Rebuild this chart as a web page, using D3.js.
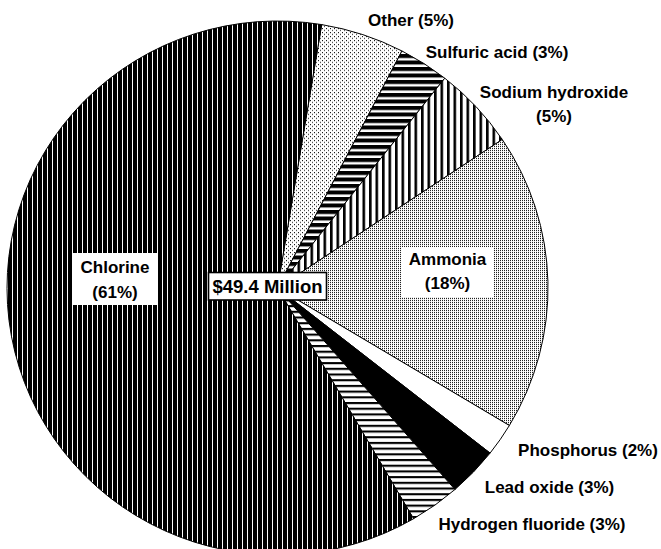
<!DOCTYPE html>
<html>
<head>
<meta charset="utf-8">
<script src="https://cdn.jsdelivr.net/npm/d3@7"></script>
<style>
  html, body { margin: 0; padding: 0; background: #fff; }
  svg { display: block; }
  text { font-family: "Liberation Sans", Arial, Helvetica, sans-serif; font-weight: bold; fill: #000; }
</style>
</head>
<body>
<svg id="chart" width="661" height="549"></svg>
<script>
// ---- data ----
const categories = ["Other", "Sulfuric acid", "Sodium hydroxide", "Ammonia", "Phosphorus", "Lead oxide", "Hydrogen fluoride", "Chlorine"];
const shares = [5, 3, 5, 18, 2, 3, 3, 61];
const totalLabel = "$49.4 Million";

// ---- layout / style (not data) ----
const W = 661, H = 549;
const cx = 277.5, cy = 288, rx = 270.5, ry = 267;
const startDeg = 9.4;
const fillIds = {
  "Other": "url(#pOther)",
  "Sulfuric acid": "url(#pSulf)",
  "Sodium hydroxide": "url(#pSodium)",
  "Ammonia": "url(#pAmmonia)",
  "Phosphorus": "#ffffff",
  "Lead oxide": "#000000",
  "Hydrogen fluoride": "url(#pHF)",
  "Chlorine": "url(#pChlorine)"
};
const outsideLabels = {
  "Other": {x: 411, y: 25.5, two: false},
  "Sulfuric acid": {x: 497, y: 57.5, two: false},
  "Sodium hydroxide": {x: 554, y: 97.5, two: true},
  "Phosphorus": {x: 588, y: 455.5, two: false},
  "Lead oxide": {x: 549.5, y: 493, two: false},
  "Hydrogen fluoride": {x: 532, y: 529.5, two: false}
};
const boxedLabels = {
  "Chlorine": {x: 73, y: 253, w: 84, h: 52, tx: 115, ty: 272.7},
  "Ammonia": {x: 402, y: 247, w: 91, h: 50, tx: 447.5, ty: 264.5}
};

const svg = d3.select("#chart");
const defs = svg.append("defs");
const counter = `translate(0.5,0) scale(1,${rx / ry})`;

function newPattern(id, w, h) {
  return defs.append("pattern").attr("id", id).attr("patternUnits", "userSpaceOnUse")
    .attr("patternTransform", counter).attr("width", w).attr("height", h);
}
function stripes(id, w, h, horizontal, bandSize) {
  const p = newPattern(id, w, h);
  p.append("rect").attr("width", w).attr("height", h).attr("fill", "#fff");
  if (horizontal) p.append("rect").attr("x", 0).attr("y", 0).attr("width", w).attr("height", bandSize).attr("fill", "#000");
  else p.append("rect").attr("x", 0).attr("y", 0).attr("width", bandSize).attr("height", h).attr("fill", "#000");
}
stripes("pChlorine", 5, 10, false, 4);
stripes("pSodium", 6.5, 10, false, 2.6);
stripes("pSulf", 10, 6.5, true, 4);
stripes("pHF", 10, 5.7, true, 2.1);

(function () {
  const p = newPattern("pOther", 4, 4);
  p.append("rect").attr("width", 4).attr("height", 4).attr("fill", "#fff");
  p.append("rect").attr("x", 0).attr("y", 0).attr("width", 1).attr("height", 1).attr("fill", "#000");
  p.append("rect").attr("x", 2).attr("y", 2).attr("width", 1).attr("height", 1).attr("fill", "#000");
  const q = newPattern("pAmmonia", 2, 2);
  q.append("rect").attr("width", 2).attr("height", 2).attr("fill", "#fff");
  q.append("rect").attr("x", 0).attr("y", 0).attr("width", 1).attr("height", 1).attr("fill", "#000");
})();

const rows = categories.map((c, i) => ({name: c, share: shares[i]}));
const start = startDeg * Math.PI / 180;
const pie = d3.pie().sort(null).value(d => d.share).startAngle(start).endAngle(start + 2 * Math.PI);
const arc = d3.arc().innerRadius(0).outerRadius(rx);

const g = svg.append("g").attr("transform", `translate(${cx},${cy}) scale(1,${ry / rx})`);
g.selectAll("path.slice").data(pie(rows)).join("path")
  .attr("class", "slice")
  .attr("d", arc)
  .attr("fill", d => fillIds[d.data.name])
  .attr("stroke", "#000")
  .attr("stroke-width", 1)
  .attr("stroke-linejoin", "round");

rows.forEach(r => {
  const L = outsideLabels[r.name];
  if (!L) return;
  const t = svg.append("text").attr("text-anchor", "middle").attr("font-size", 17);
  if (L.two) {
    t.append("tspan").attr("x", L.x).attr("y", L.y).text(r.name);
    t.append("tspan").attr("x", L.x).attr("y", L.y + 24.3).text(`(${r.share}%)`);
  } else {
    t.attr("x", L.x).attr("y", L.y).text(`${r.name} (${r.share}%)`);
  }
});

rows.forEach(r => {
  const B = boxedLabels[r.name];
  if (!B) return;
  svg.append("rect").attr("x", B.x).attr("y", B.y).attr("width", B.w).attr("height", B.h).attr("fill", "#fff");
  const t = svg.append("text").attr("text-anchor", "middle").attr("font-size", 17);
  t.append("tspan").attr("x", B.tx).attr("y", B.ty).text(r.name);
  t.append("tspan").attr("x", B.tx).attr("y", B.ty + 24.8).text(`(${r.share}%)`);
});

svg.append("rect").attr("x", 208.5).attr("y", 272.5).attr("width", 118).attr("height", 27.5)
  .attr("fill", "#fff").attr("stroke", "#000").attr("stroke-width", 1.6);
svg.append("text").attr("x", 267.5).attr("y", 293).attr("text-anchor", "middle")
  .attr("font-size", 18.5).text(totalLabel);
</script>
</body>
</html>
